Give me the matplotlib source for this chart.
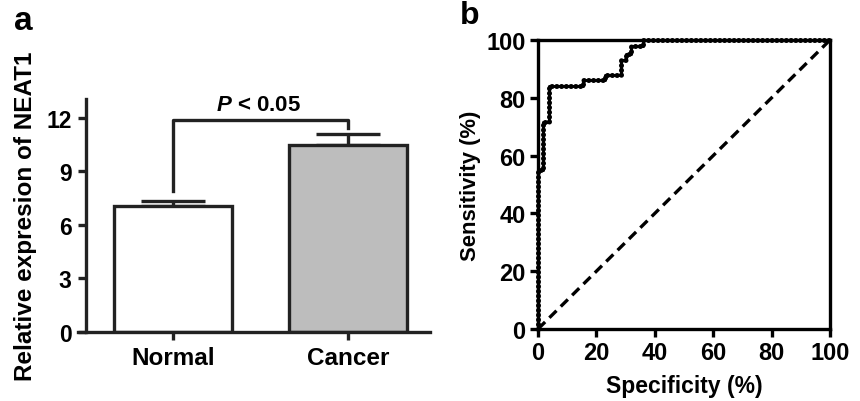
"import modules"
import matplotlib
matplotlib.use("Agg")
import matplotlib.pyplot as plt
import numpy as np

# fonts - Arial look-alike, bold everywhere
plt.rcParams["font.family"] = ["Liberation Sans", "DejaVu Sans"]
plt.rcParams["font.weight"] = "bold"
plt.rcParams["mathtext.fontset"] = "custom"
plt.rcParams["mathtext.it"] = "Liberation Sans:italic:bold"
plt.rcParams["mathtext.rm"] = "Liberation Sans:bold"

# data
groups = ["Normal", "Cancer"]
means = [7.07, 10.5]
sem = [0.29, 0.57]
bar_colors = ["white", "#bdbdbd"]
yticks_a = [0, 3, 6, 9, 12]

# ROC curve corners (specificity %, sensitivity %)
roc_x = [0, 0, 1.8, 1.8, 3.8, 3.8, 15.5, 15.5, 23, 23, 28.5, 28.5,
         30.2, 30.2, 32, 32, 36, 36, 100]
roc_y = [0, 55, 55, 71.5, 71.5, 84, 84, 86, 86, 88, 88, 93,
         93, 95, 95, 98, 98, 100, 100]
ticks_b = [0, 20, 40, 60, 80, 100]

line_c = "#222222"
lw = 2.4


def barplot(ax):
    """Panel a: bar chart with error bars and significance bracket"""
    x = np.arange(len(groups))
    ax.bar(x, means, width=0.674, color=bar_colors, edgecolor=line_c,
           linewidth=lw, zorder=2)
    # only the upper half of the error bar
    ax.errorbar(x, means, yerr=[[0, 0], sem], fmt="none", ecolor=line_c,
                elinewidth=lw, capsize=23, capthick=lw, zorder=1)

    # significance bracket
    ax.plot([0, 0, 1, 1], [7.87, 11.85, 11.85, 11.4], color=line_c,
            linewidth=lw, clip_on=False)
    ax.text(0.49, 12.72, r"$\it{P}$ < 0.05", ha="center", va="center",
            fontsize=16, fontweight="bold")

    ax.set_xlim(-0.543, 1.469)
    ax.set_ylim(0, 13.05)
    ax.set_xticks(x)
    ax.set_xticklabels(groups)
    ax.set_yticks(yticks_a)

    for s in ["top", "right"]:
        ax.spines[s].set_visible(False)
    ax.spines["left"].set_position(("data", -0.5))
    ax.spines["left"].set_bounds(0, 13.05)
    for s in ["left", "bottom"]:
        ax.spines[s].set_linewidth(lw)
        ax.spines[s].set_color(line_c)

    ax.tick_params(axis="both", direction="out", length=6, width=lw,
                   color=line_c, pad=4)
    ax.tick_params(axis="x", labelsize=17.5)
    ax.tick_params(axis="y", labelsize=16.5)
    ax.set_ylabel("Relative expresion of NEAT1", fontsize=17.5,
                  fontweight="bold", labelpad=7)


def rocplot(ax):
    """Panel b: ROC curve with reference diagonal"""
    ax.plot(roc_x, roc_y, color="black", linewidth=2.2, clip_on=False,
            zorder=3)
    ax.plot(roc_x, roc_y, color="black", linewidth=3.6, clip_on=False,
            linestyle=(0, (0.05, 0.9)), dash_capstyle="round", zorder=3)
    ax.plot([0, 100], [0, 100], color="black", linewidth=2.4,
            linestyle=(0, (3, 1.8)), zorder=2)

    ax.set_xlim(0, 100)
    ax.set_ylim(0, 100)
    ax.set_xticks(ticks_b)
    ax.set_yticks(ticks_b)
    for s in ax.spines.values():
        s.set_linewidth(lw)
        s.set_color("black")
    ax.tick_params(axis="both", direction="out", length=6, width=lw,
                   labelsize=17, pad=3)
    ax.set_xlabel("Specificity (%)", fontsize=16.5, fontweight="bold",
                  labelpad=7)
    ax.set_ylabel("Sensitivity (%)", fontsize=15.8, fontweight="bold",
                  labelpad=4)


fig = plt.figure(figsize=(8.6, 4.02), dpi=100)

# pixel boxes measured on the reference
W, H = 860, 402
ax1 = fig.add_axes([78 / W, (H - 333) / H, (430 - 78) / W, 233 / H])
ax2 = fig.add_axes([538 / W, (H - 330) / H, (830 - 538) / W, 289 / H])

barplot(ax1)
rocplot(ax2)

# panel letters
fig.text(23 / W, 1 - 21 / H, "a", fontsize=24, fontweight="bold",
         ha="center", va="center")
fig.text(470 / W, 1 - 16 / H, "b", fontsize=23, fontweight="bold",
         ha="center", va="center")

fig.savefig("out.png", dpi=100)
